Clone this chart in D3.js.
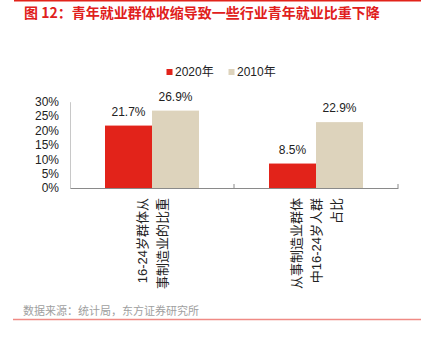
<!DOCTYPE html>
<html>
<head>
<meta charset="utf-8">
<script src="https://cdn.jsdelivr.net/npm/d3@7"></script>
<style>
  html, body { margin: 0; padding: 0; background: #fff; }
  svg { display: block; }
  text { font-family: "Liberation Sans", Arial, "Noto Sans CJK SC", sans-serif; }
</style>
</head>
<body>
<svg id="chart" width="421" height="339"></svg>
<script>
const titleText = "图 12：青年就业群体收缩导致一些行业青年就业比重下降";
const sourceText = "数据来源：统计局，东方证券研究所";
const categories = ["16-24岁群体从事制造业的比重", "从事制造业群体中16-24岁人群占比"];
const categoryLines = [["16-24岁群体从", "事制造业的比重"], ["从事制造业群体", "中16-24岁人群", "占比"]];
const seriesNames = ["2020年", "2010年"];
const series2020 = [21.7, 8.5];
const series2010 = [26.9, 22.9];
const yTicks = [0, 5, 10, 15, 20, 25, 30];
const colors = ["#e2231a", "#ddd3bc"];

const svg = d3.select("#chart");

// frame lines
svg.append("line").attr("x1", 14).attr("x2", 421).attr("y1", 0.75).attr("y2", 0.75)
  .attr("stroke", "#e2231a").attr("stroke-width", 1.5);
svg.append("line").attr("x1", 13).attr("x2", 421).attr("y1", 319.5).attr("y2", 319.5)
  .attr("stroke", "#f08a85").attr("stroke-width", 1.5);

// title
svg.append("text").attr("x", 24).attr("y", 18)
  .attr("font-size", 14).attr("font-weight", "bold").attr("fill", "#e0201c")
  .style("font-family", "'Noto Sans CJK SC', sans-serif")
  .text(titleText);

// source
svg.append("text").attr("x", 23).attr("y", 315)
  .attr("font-size", 11).attr("fill", "#a0a0a0")
  .style("font-family", "'Noto Sans CJK SC', sans-serif")
  .text(sourceText);

const x0 = d3.scaleBand().domain(categories).range([70, 398]).paddingInner(0).paddingOuter(0);
const x1 = d3.scaleBand().domain(seriesNames).range([0, x0.bandwidth()]).paddingInner(0).paddingOuter(0.745);
const y = d3.scaleLinear().domain([0, 30]).range([188, 101.7]);

// y axis labels
const yAxis = d3.axisLeft(y).tickValues(yTicks).tickSize(0).tickPadding(11)
  .tickFormat(d => d + "%");
const gy = svg.append("g").attr("transform", "translate(70,0)").call(yAxis);
gy.select(".domain").attr("stroke", "#c8c8c8").attr("stroke-width", 1);
gy.selectAll("text").attr("font-size", 12).attr("fill", "#222")
  .style("font-family", "'Liberation Sans', Arial, sans-serif");

// bars
const data = categories.map((c, i) => ({ c, vals: [series2020[i], series2010[i]] }));
const groups = svg.append("g").selectAll("g").data(data).join("g")
  .attr("transform", d => `translate(${x0(d.c)},0)`);
groups.selectAll("rect").data(d => d.vals.map((v, j) => ({ v, s: seriesNames[j], j })))
  .join("rect")
  .attr("x", d => x1(d.s)).attr("width", x1.bandwidth())
  .attr("y", d => y(d.v)).attr("height", d => y(0) - y(d.v))
  .attr("fill", d => colors[d.j]);
groups.selectAll("text.val").data(d => d.vals.map((v, j) => ({ v, s: seriesNames[j], j })))
  .join("text").attr("class", "val")
  .attr("x", d => x1(d.s) + x1.bandwidth() / 2)
  .attr("y", d => y(d.v) - 10)
  .attr("text-anchor", "middle").attr("font-size", 12).attr("fill", "#222")
  .text(d => d.v.toFixed(1) + "%");

// x axis
const xAxis = d3.axisBottom(x0).tickSize(0).tickFormat("");
const gx = svg.append("g").attr("transform", "translate(0,188)").call(xAxis);
gx.select(".domain").attr("stroke", "#8a8a8a").attr("stroke-width", 1);
gx.selectAll(".tick").remove();
// boundary ticks (inward)
const bounds = [x0(categories[1]), x0.range()[1]];
svg.append("g").selectAll("line").data(bounds).join("line")
  .attr("x1", d => d).attr("x2", d => d).attr("y1", 184).attr("y2", 188)
  .attr("stroke", "#8a8a8a").attr("stroke-width", 1);

// category labels, rotated
categories.forEach((c, i) => {
  const cx = x0(c) + x0.bandwidth() / 2;
  const lines = categoryLines[i];
  lines.forEach((ln, k) => {
    const lx = cx + (k - (lines.length - 1) / 2) * 20;
    svg.append("text")
      .attr("transform", `translate(${lx},198) rotate(-90)`)
      .attr("text-anchor", "end").attr("dominant-baseline", "central")
      .attr("font-size", 13).attr("fill", "#222")
      .text(ln);
  });
});

// legend
const legend = svg.append("g");
const legX = [166.5, 228.5];
seriesNames.forEach((s, i) => {
  legend.append("rect").attr("x", legX[i]).attr("y", 69).attr("width", 6).attr("height", 6)
    .attr("fill", colors[i]);
  legend.append("text").attr("x", legX[i] + 8.5).attr("y", 72)
    .attr("dominant-baseline", "central").attr("font-size", 12).attr("fill", "#222")
    .text(s);
});
</script>
</body>
</html>
